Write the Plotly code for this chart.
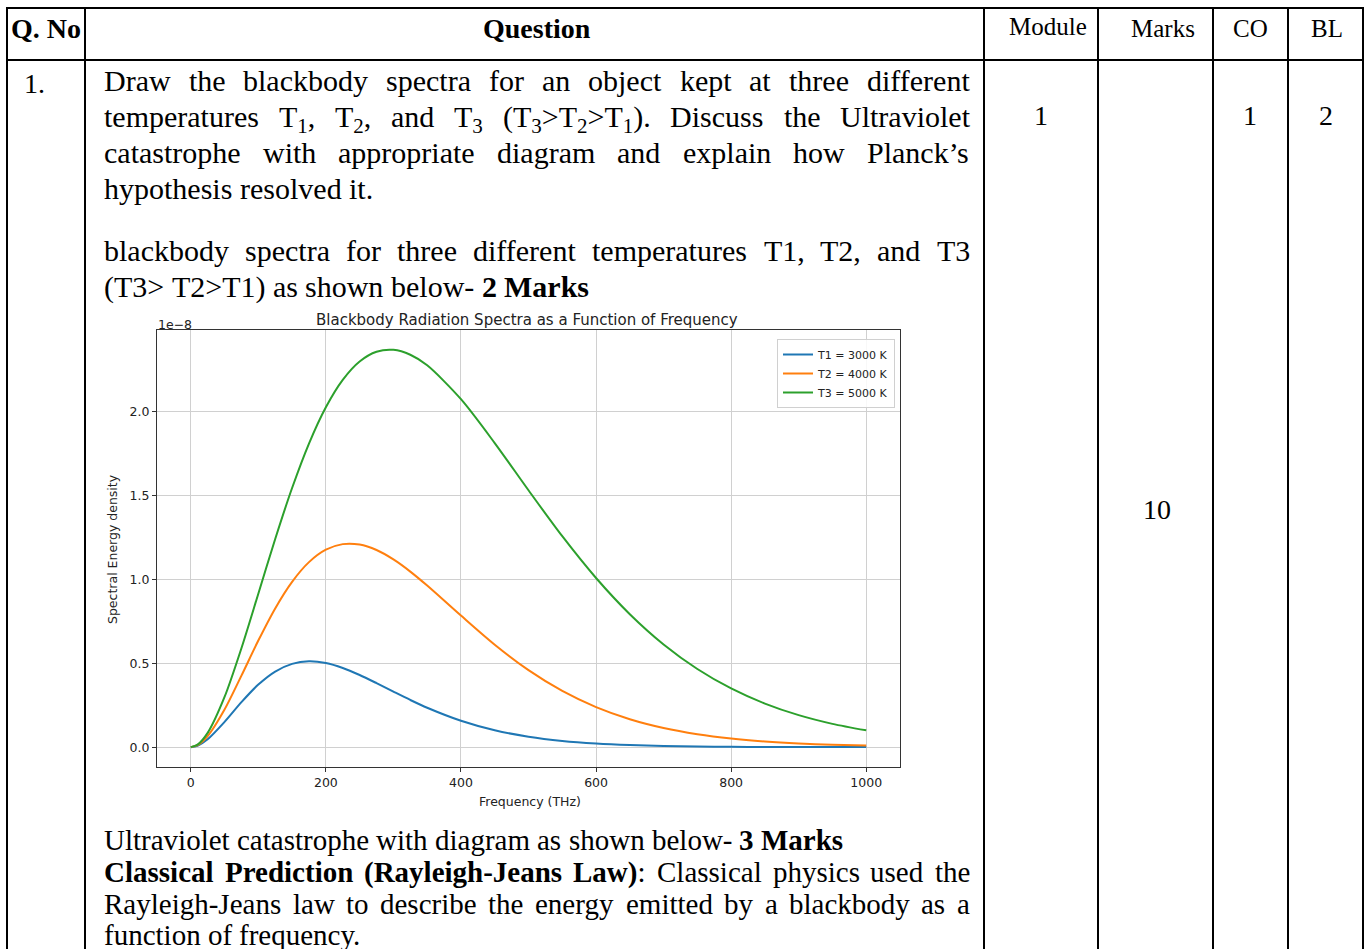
import plotly.graph_objects as go

W, H = 1368, 949

# ---------------- chart data (values in units of 1e-8) ----------------
freq_thz = [0, 10, 25, 50, 75, 100, 125, 150, 175, 200, 225, 250, 275, 300, 325, 350,
            400, 450, 500, 550, 600, 650, 700, 750, 800, 850, 900, 950, 1000]
t1_3000k = [0, 0.0085, 0.0469, 0.1505, 0.2683, 0.3733, 0.4512, 0.4970, 0.5123, 0.5019,
            0.4725, 0.4306, 0.3819, 0.3311, 0.2814, 0.2352, 0.1575, 0.1007, 0.0621,
            0.0371, 0.0217, 0.0124, 0.0070, 0.0038, 0.0021, 0.0011, 0.0006, 0.0003, 0.0002]
t2_4000k = [0, 0.0116, 0.0659, 0.2243, 0.4264, 0.6359, 0.8277, 0.9862, 1.1038, 1.1781,
            1.2113, 1.2086, 1.1760, 1.1200, 1.0474, 0.9640, 0.7847, 0.6109, 0.4591,
            0.3351, 0.2387, 0.1665, 0.1141, 0.0771, 0.0513, 0.0338, 0.0220, 0.0142, 0.0091]
t3_5000k = [0, 0.0146, 0.0850, 0.2993, 0.5903, 0.9154, 1.2420, 1.5462, 1.8115, 2.0282,
            2.1915, 2.3010, 2.3591, 2.3704, 2.3414, 2.2781, 2.0761, 1.8143, 1.5326,
            1.2584, 1.0091, 0.7931, 0.6126, 0.4661, 0.3500, 0.2598, 0.1908, 0.1389, 0.1003]
series_names = ["T1 = 3000 K", "T2 = 4000 K", "T3 = 5000 K"]
series_colors = ["#1f77b4", "#ff7f0e", "#2ca02c"]
x_ticks = [0, 200, 400, 600, 800, 1000]
y_ticks = [0.0, 0.5, 1.0, 1.5, 2.0]

chart_title = "Blackbody Radiation Spectra as a Function of Frequency"
x_title = "Frequency (THz)"
y_title = "Spectral Energy density"
y_exponent = "1e\u22128"

# ---------------- document text ----------------
header_labels = ["Q. No", "Question", "Module", "Marks", "CO", "BL"]
row_qno = "1."
row_module = "1"
row_marks = "10"
row_co = "1"
row_bl = "2"

question_lines = [
    "Draw the blackbody spectra for an object kept at three different",
    "temperatures T<sub>1</sub>, T<sub>2</sub>, and T<sub>3</sub> (T<sub>3</sub>&gt;T<sub>2</sub>&gt;T<sub>1</sub>). Discuss the Ultraviolet",
    "catastrophe with appropriate diagram and explain how Planck\u2019s",
    "hypothesis resolved it.",
]
answer_lines_a = [
    "blackbody spectra for three different temperatures T1, T2, and T3",
    "(T3&gt; T2&gt;T1) as shown below- <b>2</b> <b>Marks</b>",
]
answer_lines_b = [
    "Ultraviolet catastrophe with diagram as shown below- <b>3</b> <b>Marks</b>",
    "<b>Classical</b> <b>Prediction</b> <b>(Rayleigh-Jeans</b> <b>Law)</b>: Classical physics used the",
    "Rayleigh-Jeans law to describe the energy emitted by a blackbody as a",
    "function of frequency.",
]

# ---------------- layout helpers ----------------
def px(x):
    return x / W

def py(y):
    return 1 - y / H

TR = {' ': 250, '!': 333, '(': 333, ')': 333, ',': 250, '-': 333, '.': 250, ':': 278,
      ';': 278, '<': 564, '=': 564, '>': 564, '\u2019': 333, "'": 180}
TB = {' ': 250, '!': 333, '(': 333, ')': 333, ',': 250, '-': 333, '.': 250, ':': 333,
      ';': 333, '<': 570, '=': 570, '>': 570, '\u2019': 333, "'": 278}
for d in "0123456789":
    TR[d] = 500
    TB[d] = 500
for ch, w in zip("ABCDEFGHIJKLMNOPQRSTUVWXYZ",
                 [722, 667, 667, 722, 611, 556, 722, 722, 333, 389, 722, 611, 889, 722, 722,
                  556, 722, 667, 556, 611, 722, 722, 944, 722, 722, 611]):
    TR[ch] = w
for ch, w in zip("abcdefghijklmnopqrstuvwxyz",
                 [444, 500, 444, 500, 444, 333, 500, 500, 278, 278, 500, 278, 778, 500, 500,
                  500, 500, 333, 389, 278, 500, 500, 722, 500, 500, 444]):
    TR[ch] = w
for ch, w in zip("ABCDEFGHIJKLMNOPQRSTUVWXYZ",
                 [722, 667, 722, 722, 667, 611, 778, 778, 389, 500, 778, 667, 944, 722, 778,
                  611, 778, 722, 556, 667, 722, 722, 1000, 722, 722, 667]):
    TB[ch] = w
for ch, w in zip("abcdefghijklmnopqrstuvwxyz",
                 [500, 556, 444, 556, 444, 333, 500, 556, 278, 333, 556, 278, 833, 556, 500,
                  556, 556, 444, 389, 333, 556, 500, 722, 500, 500, 444]):
    TB[ch] = w


def measure(markup, size):
    w = 0.0
    bold = False
    sub = False
    i = 0
    while i < len(markup):
        if markup.startswith('<b>', i):
            bold = True; i += 3; continue
        if markup.startswith('</b>', i):
            bold = False; i += 4; continue
        if markup.startswith('<sub>', i):
            sub = True; i += 5; continue
        if markup.startswith('</sub>', i):
            sub = False; i += 6; continue
        if markup.startswith('&gt;', i):
            ch = '>'; i += 4
        else:
            ch = markup[i]; i += 1
        tbl = TB if bold else TR
        cw = tbl.get(ch, 500) / 1000 * size
        if sub:
            cw *= 0.7
        w += cw
    return w


annotations = []
SERIF = "Liberation Serif"


def text_at(text, x, y_center, size, anchor="center", family=SERIF, color="black"):
    top = y_center - 0.56 * size
    annotations.append(dict(text=text, x=px(x), y=py(top), xref="paper", yref="paper",
                            xanchor=anchor, yanchor="top", showarrow=False, borderpad=0,
                            font=dict(family=family, size=size, color=color)))


def para_line(markup, x_left, y_center, size, right=None):
    words = markup.split(' ')
    widths = [measure(w, size) for w in words]
    if right is not None and len(words) > 1:
        gap = (right - x_left - sum(widths)) / (len(words) - 1)
    else:
        gap = TR[' '] / 1000 * size
    x = x_left
    for w, wd in zip(words, widths):
        text_at(w, x, y_center, size, anchor="left")
        x += wd + gap


# ---------------- table grid ----------------
TABLE_TOP, HEADER_BOTTOM = 8, 60
col_edges = [7, 85, 984, 1098, 1213, 1288, 1363]
shapes = []
for y in (TABLE_TOP, HEADER_BOTTOM):
    shapes.append(dict(type="line", xref="paper", yref="paper", x0=px(col_edges[0] - 1),
                       x1=px(col_edges[-1] + 1), y0=py(y), y1=py(y),
                       line=dict(color="black", width=2)))
for x in col_edges:
    shapes.append(dict(type="line", xref="paper", yref="paper", x0=px(x), x1=px(x),
                       y0=py(TABLE_TOP), y1=py(H + 5), line=dict(color="black", width=2)))

# header
text_at("<b>" + header_labels[0] + "</b>", 46, 28, 28)
text_at("<b>" + header_labels[1] + "</b>", 537, 28, 28)
text_at(header_labels[2], 1048, 26, 25)
text_at(header_labels[3], 1163, 28, 25)
text_at(header_labels[4], 1250, 28, 25)
text_at(header_labels[5], 1327, 28, 25)

# row values
text_at(row_qno, 34, 83, 28)
text_at(row_module, 1041, 115, 28)
text_at(row_marks, 1157, 509, 28)
text_at(row_co, 1250, 115, 28)
text_at(row_bl, 1326, 115, 28)

# paragraphs
TXT_L, TXT_R = 103, 969
for i, (line, yc) in enumerate(zip(question_lines, [80, 116, 152, 188])):
    para_line(line, TXT_L, yc, 30, right=TXT_R if i < len(question_lines) - 1 else None)
para_line(answer_lines_a[0], TXT_L, 250, 30, right=TXT_R)
para_line(answer_lines_a[1], TXT_L, 286, 30)
for i, (line, yc) in enumerate(zip(answer_lines_b, [839, 871, 903, 934])):
    just = i in (1, 2)
    para_line(line, TXT_L, yc, 29, right=TXT_R if just else None)

# ---------------- chart ----------------
fig = go.Figure()
for name, vals, col in zip(series_names, [t1_3000k, t2_4000k, t3_5000k], series_colors):
    fig.add_trace(go.Scatter(x=freq_thz, y=vals, name=name, mode="lines",
                             line=dict(color=col, width=2, shape="spline", smoothing=0.8)))

SANS = "DejaVu Sans"
text_at(chart_title, 527, 318, 15, family=SANS, color="#222")
text_at(y_exponent, 157, 323, 12.5, anchor="left", family=SANS, color="#222")
text_at(x_title, 530, 800, 12.5, family=SANS, color="#222")
annotations.append(dict(text=y_title, x=px(112), y=py(549), xref="paper", yref="paper",
                        xanchor="center", yanchor="middle", textangle=-90, showarrow=False,
                        font=dict(family=SANS, size=12.5, color="#222")))

ymax = max(t3_5000k)
axis_common = dict(showline=True, mirror=True, linecolor="#333", linewidth=1,
                   ticks="outside", ticklen=4, tickwidth=1, tickcolor="#333",
                   showgrid=True, gridcolor="#d0d0d0", gridwidth=1, zeroline=False,
                   tickfont=dict(family=SANS, size=12.5, color="#222"))

fig.update_layout(
    width=W, height=H, margin=dict(l=0, r=0, t=0, b=0),
    paper_bgcolor="white", plot_bgcolor="white",
    xaxis=dict(domain=[px(157), px(900)], range=[-50, 1050], tickvals=x_ticks,
               **axis_common),
    yaxis=dict(domain=[py(767), py(330)], range=[-0.05 * ymax, 1.05 * ymax],
               tickvals=y_ticks, tickformat=".1f", **axis_common),
    legend=dict(x=px(895), y=py(339), xanchor="right", yanchor="top",
                bgcolor="rgba(255,255,255,0.85)", bordercolor="#d0d0d0", borderwidth=1,
                font=dict(family=SANS, size=11, color="#222"), itemwidth=30,
                tracegroupgap=0),
    showlegend=True,
    shapes=shapes,
    annotations=annotations,
)

fig.write_html("out.html", config={"displayModeBar": False},
               post_script="document.body.style.margin='0';document.body.style.overflow='hidden';")
